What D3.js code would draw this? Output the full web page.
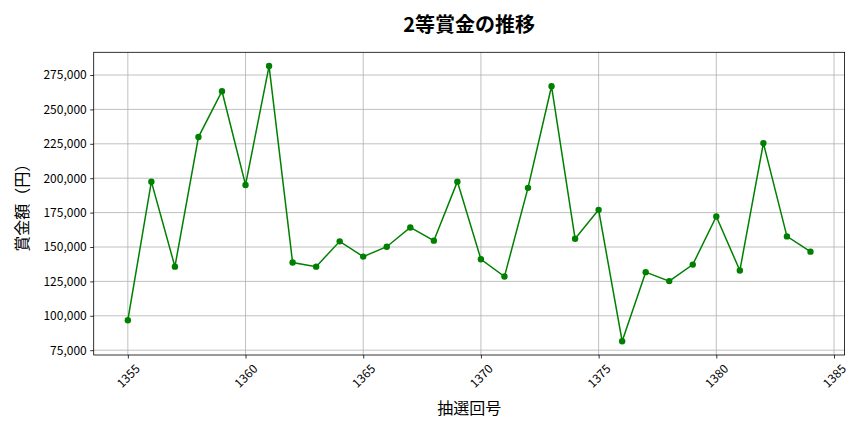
<!DOCTYPE html>
<html>
<head>
<meta charset="utf-8">
<script src="https://cdn.jsdelivr.net/npm/d3@7"></script>
<style>
  body { margin: 0; background: #fff; }
  svg text { font-family: "Noto Sans CJK JP", "Noto Sans", sans-serif; }
</style>
</head>
<body>
<svg id="chart" width="864" height="432"></svg>
<script>
// 抽選回号 and 2等賞金
const draws = [1355, 1356, 1357, 1358, 1359, 1360, 1361, 1362, 1363, 1364,
  1365, 1366, 1367, 1368, 1369, 1370, 1371, 1372, 1373, 1374,
  1375, 1376, 1377, 1378, 1379, 1380, 1381, 1382, 1383, 1384];
const prizes = [96800, 197500, 135700, 229900, 263200, 195100, 281500, 138700, 135700, 154100,
  143000, 150200, 164200, 154600, 197500, 141100, 128500, 193000, 266800, 156000,
  177000, 81500, 131700, 125200, 137200, 172200, 132900, 225500, 157700, 146600];
const xTicks = [1355, 1360, 1365, 1370, 1375, 1380, 1385];
const yTicks = [75000, 100000, 125000, 150000, 175000, 200000, 225000, 250000, 275000];

const svg = d3.select("#chart");
const plotL = 93.7, plotR = 844.6, plotT = 52.3, plotB = 355;

const x = d3.scaleLinear().domain([1353.55, 1385.45]).range([plotL, plotR]);
const y = d3.scaleLinear().domain([71500, 291500]).range([plotB, plotT]);

// grid
svg.append("g").selectAll("line").data(xTicks).enter().append("line")
  .attr("x1", d => x(d)).attr("x2", d => x(d))
  .attr("y1", plotT).attr("y2", plotB)
  .attr("stroke", "#b0b0b0").attr("stroke-width", 0.8);
svg.append("g").selectAll("line").data(yTicks).enter().append("line")
  .attr("x1", plotL).attr("x2", plotR)
  .attr("y1", d => y(d)).attr("y2", d => y(d))
  .attr("stroke", "#b0b0b0").attr("stroke-width", 0.8);

// axes
const xAxis = svg.append("g")
  .attr("transform", `translate(0,${plotB})`)
  .call(d3.axisBottom(x).tickValues(xTicks).tickFormat(d3.format("d")).tickSizeOuter(0).tickSize(3.5));
xAxis.select(".domain").remove();
xAxis.selectAll("text")
  .attr("font-size", 12).attr("fill", "#000")
  .attr("text-anchor", "middle")
  .attr("transform", "translate(0,21) rotate(-45)")
  .attr("dy", "0.35em").attr("y", 0).attr("x", 0);
xAxis.selectAll("line").attr("stroke", "#000").attr("stroke-width", 0.8);

const yAxis = svg.append("g")
  .attr("transform", `translate(${plotL},0)`)
  .call(d3.axisLeft(y).tickValues(yTicks).tickFormat(d3.format(",")).tickSizeOuter(0).tickSize(3.5));
yAxis.select(".domain").remove();
yAxis.selectAll("text").attr("font-size", 12).attr("fill", "#000").attr("x", -7);
yAxis.selectAll("line").attr("stroke", "#000").attr("stroke-width", 0.8);

// frame
svg.append("rect")
  .attr("x", plotL).attr("y", plotT)
  .attr("width", plotR - plotL).attr("height", plotB - plotT)
  .attr("fill", "none").attr("stroke", "#000").attr("stroke-width", 0.8);

// line + markers
const line = d3.line().x((d, i) => x(draws[i])).y(d => y(d));
svg.append("path").datum(prizes)
  .attr("d", line)
  .attr("fill", "none").attr("stroke", "#008000").attr("stroke-width", 1.5);
svg.append("g").selectAll("circle").data(prizes).enter().append("circle")
  .attr("cx", (d, i) => x(draws[i])).attr("cy", d => y(d))
  .attr("r", 3.2).attr("fill", "#008000");

// labels
svg.append("text")
  .attr("x", (plotL + plotR) / 2).attr("y", 32)
  .attr("text-anchor", "middle").attr("font-size", 20).attr("font-weight", "bold")
  .text("2等賞金の推移");
svg.append("text")
  .attr("x", (plotL + plotR) / 2).attr("y", 414)
  .attr("text-anchor", "middle").attr("font-size", 16)
  .text("抽選回号");
svg.append("text")
  .attr("transform", `translate(28,${(plotT + plotB) / 2}) rotate(-90)`)
  .attr("text-anchor", "middle").attr("font-size", 16)
  .text("賞金額（円）");
</script>
</body>
</html>
